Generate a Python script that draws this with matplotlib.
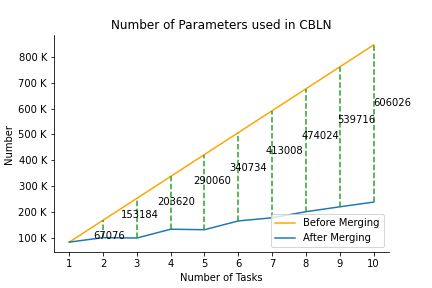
import numpy as np
import matplotlib
matplotlib.use("Agg")
import matplotlib.pyplot as plt
from matplotlib.ticker import FuncFormatter

############################### DATA

tasks = [1, 2, 3, 4, 5, 6, 7, 8, 9, 10]
before_merging = [84500, 169000, 253500, 338000, 422500, 507000, 591500, 676000, 760500, 845000]
after_merging = [84500, 101924, 100316, 134380, 132440, 166266, 178492, 201976, 220784, 238974]
saved = [67076, 153184, 203620, 290060, 340734, 413008, 474024, 539716, 606026]

############################### DISPLAY

fig = plt.figure(figsize=(6, 4), dpi=72)
fig.subplots_adjust(left=0.125, right=0.9, bottom=0.125, top=0.878)
ax = fig.add_subplot(111)

ax.plot(tasks, before_merging, color="orange", linewidth=1.5, label="Before Merging")
ax.plot(tasks, after_merging, color="tab:blue", linewidth=1.5, label="After Merging")

for i in range(1, len(tasks)):
    ax.vlines(tasks[i], after_merging[i], before_merging[i], colors="tab:green", linestyles="--", linewidth=1.5)
    tx = tasks[i] - 0.47 + 0.067 * (i - 2)
    if i == 1:
        tx = tasks[i] - 0.29
    ty = 0.947 * saved[i - 1] + 46000
    ax.text(tx, ty, str(saved[i - 1]), ha="left", va="center", fontsize=10)

ax.set_xticks(tasks)
ax.yaxis.set_major_formatter(FuncFormatter(lambda v, p: "{} K".format(int(v / 1000))))
ax.spines["top"].set_visible(False)
ax.spines["right"].set_visible(False)

ax.set_title("Number of Parameters used in CBLN")
ax.set_xlabel("Number of Tasks")
ax.set_ylabel("Number")
ax.legend(loc="lower right")

plt.savefig("out.png", dpi=72)
